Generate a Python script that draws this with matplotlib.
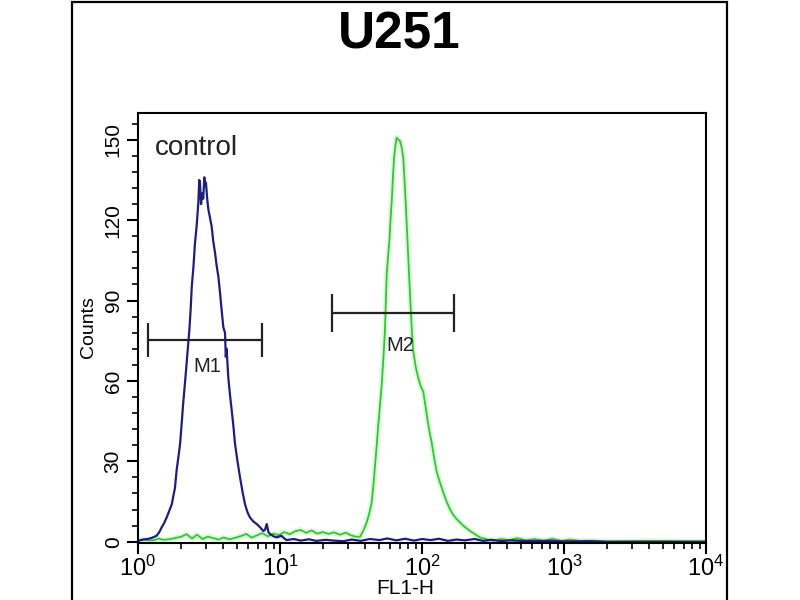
import matplotlib
matplotlib.use("Agg")
import matplotlib.pyplot as plt
from matplotlib.ticker import LogLocator, LogFormatterMathtext, MultipleLocator, NullFormatter
from matplotlib.patches import Rectangle

plt.rcParams['font.family'] = ['Liberation Sans', 'DejaVu Sans']

# ---- Data ---- #
# control (blue) histogram: FL1-H value vs counts
blue_x = [1.0, 1.08, 1.17, 1.26, 1.35, 1.41, 1.47, 1.53, 1.59, 1.66, 1.73, 1.78, 1.82, 1.87,
          1.93, 1.98, 2.03, 2.08, 2.14, 2.20, 2.25, 2.30, 2.35, 2.39, 2.46, 2.52, 2.59, 2.66,
          2.70, 2.73, 2.78, 2.83, 2.88, 2.93, 2.97, 3.01, 3.07, 3.13, 3.21, 3.30, 3.39, 3.49,
          3.58, 3.68, 3.78, 3.88, 3.99, 4.10, 4.15, 4.21, 4.32, 4.44, 4.57, 4.70, 4.82, 5.02,
          5.23, 5.45, 5.67, 5.90, 6.15, 6.50, 6.85, 7.20, 7.63, 7.85, 8.06, 8.30, 8.50, 9.0,
          9.48, 10.2, 11.1, 12.5, 14, 16, 18, 21, 24, 28, 32, 37, 43, 50, 57, 66, 76, 88, 100,
          115, 132, 152, 175, 200, 235, 270, 310, 360, 420, 500, 600, 800, 1000, 1500, 2000,
          5000, 10000]
blue_y = [0.3, 0.8, 1.0, 1.5, 2.2, 3.5, 5.4, 7.0, 9.0, 11.5, 14, 17.5, 20, 26.6,
          32, 36.7, 44, 51.6, 59, 66.6, 73, 79, 87, 95, 103, 111.5, 118, 126.5,
          135, 134, 126, 130, 128, 136, 133, 134, 128, 124, 121, 117.7, 112, 107.7,
          103, 99, 93, 86.5, 80, 78, 69, 72, 61.5, 55, 49, 43, 36.6, 30,
          24, 18.5, 14, 11, 9, 7.5, 6.6, 5.5, 4, 4.5, 6.6, 3.5, 2.9, 2.0,
          1.6, 2.2, 0.6, 1.0, 0.4, 0.9, 0.3, 0.7, 0.4, 0.2, 0.8, 0.3, 1.0, 0.6, 1.2, 0.5, 1.1, 0.4, 1.0,
          0.6, 1.1, 0.3, 0.8, 0.5, 1.0, 0.3, 0.7, 0.2, 0.5, 0.3, 0.2, 0.3, 0.1, 0.2, 0,
          0, 0]

# U251 (green) histogram
green_x = [1.0, 1.1, 1.2, 1.3, 1.4, 1.5, 1.65, 1.8, 2.0, 2.2, 2.4, 2.6, 2.85, 3.1, 3.4, 3.7,
           4.0, 4.4, 4.8, 5.3, 5.8, 6.3, 6.9, 7.5, 8.2, 9.0, 9.8, 10.7, 11.7, 12.8, 14, 15.3,
           16.7, 18.3, 20, 22, 24, 26.5, 29, 31.5, 34, 36.6, 38.5, 40.8, 42.5, 44.2, 45.5,
           46.7, 48, 49.2, 50.6, 52.0, 53.4, 54.8, 56.4, 57.6, 58.9, 60, 61.2, 62.3, 63.5,
           65, 66.4, 68.2, 70.0, 72, 73.9, 75.5, 77.1, 78.6, 80.1, 81.7, 83.3, 85, 86.8,
           90.5, 94.2, 98, 102, 105.5, 109, 113, 117, 122, 127, 134, 141, 149, 157, 166,
           175, 185, 195, 206, 218, 236, 256, 285, 318, 360, 410, 470, 540, 620, 720, 830,
           960, 1100, 1300, 1600, 2000, 4000, 10000]
green_y = [0.3, 0.8, 0.5, 0.6, 1.2, 0.7, 0.9, 1.3, 1.8, 2.8, 1.2, 2.6, 1.0, 1.9, 1.3, 0.8,
           1.6, 0.9, 1.4, 2.1, 2.9, 1.5, 2.4, 3.2, 2.0, 3.0, 2.4, 3.6, 2.8, 3.9, 4.4, 3.3,
           4.2, 3.0, 3.6, 2.9, 3.5, 2.6, 3.4, 2.4, 1.9, 1.8, 4.0, 7.2, 10.5, 14.7, 21,
           28.5, 36, 43.4, 51, 58.4, 68, 78.4, 99.6, 106, 112, 120, 127, 135, 143,
           148, 150.8, 150, 149.6, 147, 143, 134, 124.6, 115, 105.9, 96, 87, 78, 71,
           65, 61, 58, 56, 51, 46, 41, 37, 31, 26, 22, 18.5, 15, 12.2, 10,
           8.5, 7.2, 6, 5, 4, 2.8, 1.6, 0.9, 0.4, 1.0, 0.6, 1.3, 0.5, 1.0, 0.4, 1.1,
           0.3, 0.8, 0.3, 0.4, 0, 0.2, 0]

# marker gates
m_names = ["M1", "M2"]
m_left = [1.18, 23.4]
m_right = [7.47, 169]
m_level = [75.3, 85.3]
m_cap = [6.5, 7.2]
m_text_x = [3.08, 70]
m_text_y = [65.3, 73.4]

# ---- Plot ---- #
fig = plt.figure(figsize=(8, 6), dpi=100)

# outer frame of the panel
fig.patches.append(Rectangle((72/800, -0.02), (727-72)/800, 1.017, transform=fig.transFigure,
                             fill=False, edgecolor='black', linewidth=1.6, clip_on=False))

ax = fig.add_axes([0.1725, 0.0945, 0.71, 0.7172])

ax.plot(green_x, green_y, color='#8cff8c', linewidth=4, alpha=0.35, solid_joinstyle='round')
ax.plot(green_x, green_y, color='#3cbf3c', linewidth=1.3)
ax.plot(blue_x, blue_y, color='#1e1e7e', linewidth=1.6)

for name, l, r, lev, cap, tx, ty in zip(m_names, m_left, m_right, m_level, m_cap, m_text_x, m_text_y):
    ax.hlines(lev, l, r, color='#222222', linewidth=1.6)
    ax.vlines([l, r], lev - cap, lev + cap, color='#222222', linewidth=1.6)
    ax.text(tx, ty, name, fontsize=14.5, ha='center', va='center', color='#222222')

ax.text(1.32, 147, 'control', fontsize=20, ha='left', va='center', color='#222222')

ax.set_xscale('log')
ax.set_xlim(1, 10000)
ax.set_ylim(-0.6, 160)

ax.xaxis.set_major_locator(LogLocator(base=10, numticks=10))
ax.xaxis.set_major_formatter(LogFormatterMathtext())
ax.xaxis.set_minor_locator(LogLocator(base=10, subs=range(2, 10), numticks=10))
ax.xaxis.set_minor_formatter(NullFormatter())
ax.yaxis.set_major_locator(MultipleLocator(30))
ax.yaxis.set_minor_locator(MultipleLocator(6))

ax.tick_params(axis='both', which='major', direction='out', length=8, width=1.5, labelsize=17, pad=1)
ax.tick_params(axis='both', which='minor', direction='out', length=4, width=1.2)
ax.tick_params(axis='y', labelrotation=90, labelsize=15, pad=3)
for lab in ax.get_yticklabels():
    lab.set_va('center')

for s in ax.spines.values():
    s.set_linewidth(1.5)

fig.text(0.499, 1 - 35/600, 'U251', ha='center', va='center', fontsize=37, fontweight='bold')
fig.text(88/800, 1 - 327/600, 'Counts', ha='center', va='center', rotation=90, fontsize=14)
fig.text(405/800, 1 - 598/600, 'FL1-H', ha='center', va='bottom', fontsize=15)

fig.savefig('out.png', dpi=100)
